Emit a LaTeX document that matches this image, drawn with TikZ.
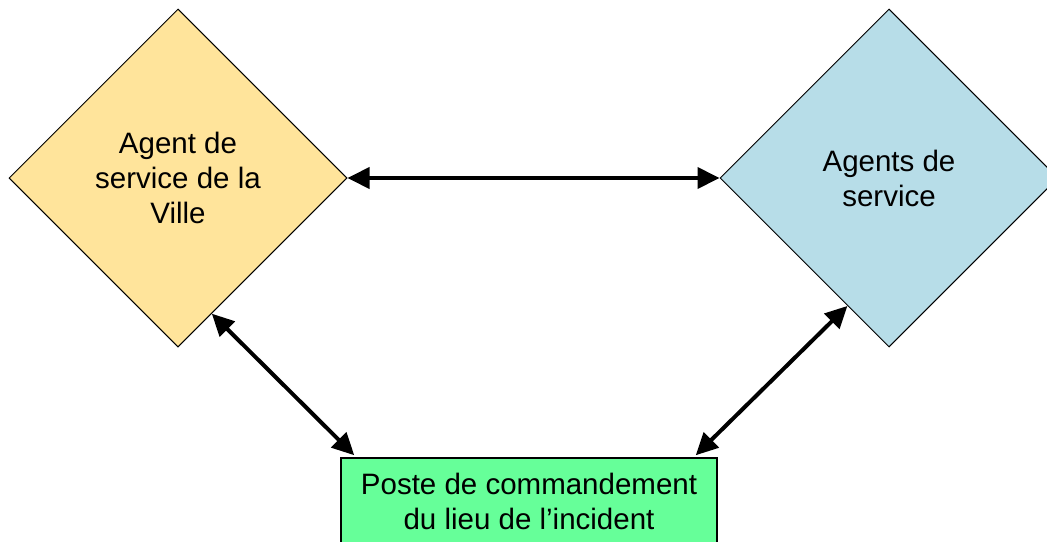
\documentclass[tikz,border=0pt]{standalone}
\usepackage{fontspec}
\setmainfont{Liberation Sans}
\usetikzlibrary{positioning,shapes,arrows.meta,calc}
\definecolor{jaune}{RGB}{255,228,155}
\definecolor{bleu}{RGB}{183,221,232}
\definecolor{vert}{RGB}{102,255,153}

\begin{document}
\begin{tikzpicture}[x=1pt,y=-1pt,
  losange/.style={draw,shape=diamond,aspect=1,minimum width=338pt,minimum height=338pt,
    inner sep=0pt,line width=1pt,align=center,font=\fontsize{29.5}{35}\selectfont},
  boite/.style={draw,shape=rectangle,minimum width=376pt,minimum height=86pt,
    line width=1.5pt,align=center,font=\fontsize{29.5}{35}\selectfont},
  fleche/.style={line width=4pt,{Triangle[length=22pt,width=21pt]}-{Triangle[length=22pt,width=21pt]}}]
\useasboundingbox (0,0) rectangle (1047,541);
\clip (0,0) rectangle (1047,541);

\draw node (ville) at (178,178) [losange,fill=jaune]{Agent de\\service de la\\Ville};
\draw node (agents) at (889,178) [losange,fill=bleu]{Agents de\\service};
\draw node (poste) at (529,501) [boite,fill=vert]{Poste de commandement\\du lieu de l’incident};

\draw[fleche] (ville.east) -- (agents.west);
\draw[fleche] (ville.-76) -- ([xshift=14pt,yshift=2pt]poste.north west);
\draw[fleche] (agents.-108) -- ([xshift=-22pt,yshift=2pt]poste.north east);
\end{tikzpicture}
\end{document}
